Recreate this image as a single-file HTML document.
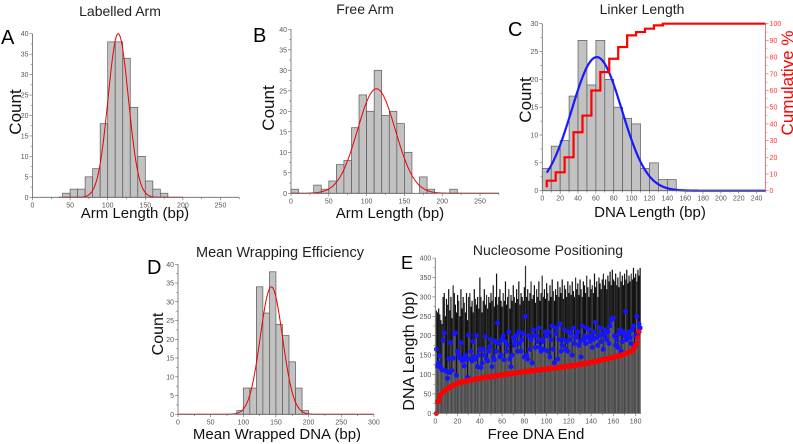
<!DOCTYPE html>
<html><head><meta charset="utf-8"><style>
html,body{margin:0;padding:0;background:#fff;}
svg{display:block;font-family:"Liberation Sans",Arial,sans-serif;}
</style></head><body>
<svg id="fig" width="793" height="444" viewBox="0 0 793 444" xmlns="http://www.w3.org/2000/svg"></svg>
<script>
// Panel A: Labelled Arm
const aBins = [40,50,60,70,80,90,100,110,120,130,140,150,160,170];
const aCounts = [1,2,2,5,7,18,38,38,34,22,10,4,2,1];
const aFit = {mean:114, amp:40, sd:13.5};
// Panel B: Free Arm
const bBins = [0,30,40,50,60,70,80,90,100,110,120,130,140,150,170,180,210];
const bCounts = [1,2,1,3,7,8,16,24,20,30,19,20,17,10,4,1,1];
const bFit = {mean:113, amp:25.5, sd:25};
// Panel C: Linker Length
const cBins = [0,10,20,30,40,50,60,70,80,90,100,110,120,130,140];
const cCounts = [4,8,9,17,27,19,27,20,15,13,12,4,5,2,2];
const cCumul = [6,11,20,35,45,60,71,79,86,93,95,97,99,100,100];
const cFit = {mean:61, amp:24, sd:28};
// Panel D: Mean Wrapping Efficiency
const dBins = [90,100,110,120,130,140,150,160,170,180,190];
const dCounts = [1,7,7,34,27,38,24,21,14,7,1];
const dFit = {mean:143, amp:34, sd:17};
// Panel E: Nucleosome Positioning
const eTotal = [265,260,270,255,240,230,300,310,250,295,280,320,265,300,245,330,310,280,260,305,290,250,320,270,300,285,260,310,240,300,310,275,290,260,320,295,280,300,270,350,300,260,290,320,280,305,270,300,285,310,290,330,275,300,360,280,300,320,290,275,310,290,340,280,300,320,270,305,290,330,300,285,320,295,340,280,310,300,290,325,380,300,320,290,310,340,295,305,330,285,320,300,340,290,310,355,300,320,295,335,310,290,330,300,345,315,290,320,305,340,300,325,310,345,295,330,320,300,340,310,330,305,340,315,300,350,320,335,305,345,320,300,340,330,310,355,325,300,345,320,330,310,360,325,340,300,350,335,320,345,360,330,345,320,355,340,365,330,370,345,340,360,330,350,325,365,340,355,330,360,345,370,335,355,340,360,345,375,350,360,340,370,355,375];
const eBlue = [165,122,130,148,118,112,188,207,110,108,90,140,105,182,110,142,205,207,98,160,150,143,182,135,140,122,150,138,93,202,140,160,135,185,145,140,200,120,150,165,118,130,165,150,198,140,135,160,172,190,120,145,138,185,160,233,180,145,150,190,200,138,185,160,175,210,140,120,150,195,175,185,200,160,210,180,160,190,205,145,250,150,140,200,165,190,130,215,200,170,200,185,220,170,160,190,185,165,210,200,160,210,145,190,225,165,130,205,220,140,190,230,160,175,190,215,165,185,160,210,190,205,150,220,180,195,200,210,175,185,145,225,190,200,180,220,195,215,185,200,170,190,210,235,195,175,200,220,185,205,165,200,215,190,210,180,225,240,245,245,200,175,190,170,205,215,160,185,210,200,262,190,200,210,195,180,215,225,175,200,250,205,230,220];
const eRed = [0,30,31,44,48,52,55,57,59,61,63,65,67,69,70,72,73,75,76,77,78,79,80,81,81,82,83,84,84,85,86,86,87,87,88,88,89,89,90,90,91,91,92,92,93,93,93,94,94,95,95,96,96,96,97,97,98,98,99,99,99,100,100,101,101,102,102,102,103,103,104,104,104,105,105,106,106,106,107,107,108,108,108,109,109,110,110,110,111,111,111,112,112,112,113,113,113,114,114,114,115,115,115,116,116,116,117,117,117,118,118,118,119,119,120,120,120,121,121,122,122,122,123,123,124,124,125,125,126,126,127,127,128,128,129,129,130,130,131,132,132,133,133,134,135,135,136,136,137,138,138,139,140,140,141,142,142,143,144,145,145,146,147,148,148,149,150,151,152,153,154,155,156,157,158,160,162,166,170,176,180,195,210];

const NS = "http://www.w3.org/2000/svg";
const fig = document.getElementById("fig");
function el(tag, attrs, parent, text){
  const e = document.createElementNS(NS, tag);
  for (const k in attrs) e.setAttribute(k, attrs[k]);
  if (text !== undefined) e.textContent = text;
  (parent || fig).appendChild(e);
  return e;
}
function gauss(f, x){ return f.amp*Math.exp(-((x-f.mean)*(x-f.mean))/(2*f.sd*f.sd)); }

function makePanel(name, o){
  const g = el("g", {}, fig);
  
  
  const X = v => o.x0 + v*o.sx;
  const Y = v => o.y0 - v*o.sy;
  o.X = X; o.Y = Y; o.g = g;
  return o;
}
function drawAxes(p, xmax, xstep, xlabStep, ymax, ystep){
  const g = p.g;
  const ax = el("g", {}, g);
  
  
  el("line", {x1:p.X(0), y1:p.y0, x2:p.X(xmax), y2:p.y0, stroke:"#666", "stroke-width":0.8}, ax);
  for (let v=0; v<=xmax+0.001; v+=xstep){
    const major = Math.abs(v/xlabStep - Math.round(v/xlabStep))<1e-6;
    el("line", {x1:p.X(v), y1:p.y0, x2:p.X(v), y2:p.y0+(major?3:1.8), stroke:"#666", "stroke-width":0.6}, ax);
    if (major){
      const t = el("text", {x:p.X(v), y:p.y0+10, "font-size":7, fill:"#555", "text-anchor":"middle"}, ax, String(v));
      
      
    }
  }
  const ay = el("g", {}, g);
  
  
  el("line", {x1:p.x0, y1:p.y0, x2:p.x0, y2:p.Y(ymax), stroke:"#666", "stroke-width":0.8}, ay);
  for (let v=0; v<=ymax+0.001; v+=ystep/2){
    const major = Math.abs(v/ystep - Math.round(v/ystep))<1e-6;
    el("line", {x1:p.x0-(major?3:1.8), y1:p.Y(v), x2:p.x0, y2:p.Y(v), stroke:"#666", "stroke-width":0.6}, ay);
    if (major){
      const t = el("text", {x:p.x0-4, y:p.Y(v)+2.5, "font-size":7, fill:"#555", "text-anchor":"end"}, ay, String(v));
      
      
    }
  }
}
function drawHist(p, bins, counts, w){
  const hg = el("g", {}, p.g);
  
  
  bins.forEach((b,i)=>{
    const r = el("rect", {x:p.X(b), y:p.Y(counts[i]), width:w*p.sx, height:counts[i]*p.sy, fill:"#c2c2c2", stroke:"#5a5a5a", "stroke-width":0.7}, hg);
    
    
  });
}
function drawFit(p, f, from, to, color, width, name){
  let d = "";
  for (let x=from; x<=to; x+=1){ d += (d?"L":"M") + p.X(x).toFixed(2) + "," + p.Y(gauss(f,x)).toFixed(2); }
  const path = el("path", {d:d, fill:"none", stroke:color, "stroke-width":width}, p.g);
  
  
}
function label(txt, attrs, name){
  const t = el("text", attrs, fig, txt);
  
  
  return t;
}

// ---- Panel A
const pA = makePanel('panel-a-labelled-arm', {x0:32.5, sx:0.752, y0:197.3, sy:4.09});
drawHist(pA, aBins, aCounts, 10);
drawFit(pA, aFit, 35, 200, "#e00", 1, 'gaussian-fit');
drawAxes(pA, 275, 25, 50, 40, 5);
// ---- Panel B
const pB = makePanel('panel-b-free-arm', {x0:291, sx:0.756, y0:193.3, sy:4.1});
drawHist(pB, bBins, bCounts, 10);
drawFit(pB, bFit, 0, 275, "#e00", 1, 'gaussian-fit');
drawAxes(pB, 275, 25, 50, 40, 5);
// ---- Panel C
const pC = makePanel('panel-c-linker-length', {x0:542.3, sx:0.893, y0:190.7, sy:5.567});
drawHist(pC, cBins, cCounts, 10);
drawFit(pC, cFit, 5, 250, "#1a1aff", 2.2, 'gaussian-fit');
drawAxes(pC, 250, 10, 20, 30, 5);
{
  const sy2 = (190.7-23.7)/100;
  const Y2 = v => 190.7 - v*sy2;
  let d = "M"+pC.X(5)+","+Y2(2);
  cBins.forEach((b,i)=>{
    d += "L"+pC.X(b+5)+","+Y2(cCumul[i])+"L"+pC.X(b+15)+","+Y2(cCumul[i]);
  });
  d += "L"+pC.X(250)+","+Y2(100);
  const cp = el("path", {d:d, fill:"none", stroke:"#f00", "stroke-width":2.2}, pC.g);
  
  
  const ra = el("g", {}, pC.g);
  
  
  el("line", {x1:pC.X(250), y1:Y2(0), x2:pC.X(250), y2:Y2(100), stroke:"#f55", "stroke-width":0.8}, ra);
  for (let v=0; v<=100; v+=5){
    const major = v%10===0;
    el("line", {x1:pC.X(250), y1:Y2(v), x2:pC.X(250)+(major?3:1.8), y2:Y2(v), stroke:"#f55", "stroke-width":0.6}, ra);
    if (major){
      const t = el("text", {x:pC.X(250)+4, y:Y2(v)+2.5, "font-size":7, fill:"#f33"}, ra, String(v));
      
      
    }
  }
}
// ---- Panel D
const pD = makePanel('panel-d-wrapping-efficiency', {x0:178, sx:0.653, y0:414.3, sy:3.75});
drawHist(pD, dBins, dCounts, 10);
drawFit(pD, dFit, 0, 300, "#e00", 1, 'gaussian-fit');
drawAxes(pD, 300, 25, 50, 40, 5);
// ---- Panel E
const pE = makePanel('panel-e-nucleosome-positioning', {x0:435.3, sx:1.113, y0:413.3, sy:0.388});
{
  const bg = el("g", {}, pE.g);
  
  
  eTotal.forEach((t,i)=>{
    const x = pE.X(i+0.5);
    el("rect", {x:x, y:pE.Y(eBlue[i]), width:pE.sx+0.1, height:eBlue[i]*pE.sy, fill:i%3===0?"#5e5e5e":"#4a4a4a"}, bg);
    el("rect", {x:x, y:pE.Y(t), width:pE.sx+0.1, height:(t-eBlue[i])*pE.sy, fill:i%5===0?"#333":"#121212"}, bg);
  });
  const blg = el("g", {}, pE.g);
  
  
  eBlue.forEach((v,i)=>{ el("circle", {cx:pE.X(i+1), cy:pE.Y(v), r:2.5, fill:"#1515ff"}, blg); });
  const rg = el("g", {}, pE.g);
  
  
  eRed.forEach((v,i)=>{ el("circle", {cx:pE.X(i+1), cy:pE.Y(v), r:2.6, fill:"#f00"}, rg); });
}
drawAxes(pE, 185, 10, 20, 400, 50);

// ---- Text labels
label("Labelled Arm", {x:120, y:16, "font-size":14, "text-anchor":"middle", fill:"#222"}, 'panel-a-title');
label("Free Arm", {x:365, y:14, "font-size":14, "text-anchor":"middle", fill:"#222"}, 'panel-b-title');
label("Linker Length", {x:642, y:14, "font-size":14, "text-anchor":"middle", fill:"#222"}, 'panel-c-title');
label("Mean Wrapping Efficiency", {x:280, y:257, "font-size":14.5, "text-anchor":"middle", fill:"#222"}, 'panel-d-title');
label("Nucleosome Positioning", {x:548, y:255, "font-size":14, "text-anchor":"middle", fill:"#222"}, 'panel-e-title');
label("A", {x:1, y:44, "font-size":20, fill:"#000"}, 'panel-letter-a');
label("B", {x:253, y:42, "font-size":20, fill:"#000"}, 'panel-letter-b');
label("C", {x:508, y:36, "font-size":20, fill:"#000"}, 'panel-letter-c');
label("D", {x:147, y:274, "font-size":20, fill:"#000"}, 'panel-letter-d');
label("E", {x:401, y:269, "font-size":18, fill:"#000"}, 'panel-letter-e');
label("Count", {x:0, y:0, "font-size":17, "text-anchor":"middle", transform:"translate(21,112) rotate(-90)", fill:"#111"}, 'panel-a-y-title');
label("Count", {x:0, y:0, "font-size":17, "text-anchor":"middle", transform:"translate(274,108) rotate(-90)", fill:"#111"}, 'panel-b-y-title');
label("Count", {x:0, y:0, "font-size":17, "text-anchor":"middle", transform:"translate(531,100) rotate(-90)", fill:"#111"}, 'panel-c-y-title');
label("Cumulative %", {x:0, y:0, "font-size":17, "text-anchor":"middle", transform:"translate(793,83) rotate(-90)", fill:"#f00"}, 'panel-c-right-y-title');
label("Count", {x:0, y:0, "font-size":16, "text-anchor":"middle", transform:"translate(163,334) rotate(-90)", fill:"#111"}, 'panel-d-y-title');
label("DNA Length (bp)", {x:0, y:0, "font-size":16, "text-anchor":"middle", transform:"translate(414,351) rotate(-90)", fill:"#111"}, 'panel-e-y-title');
label("Arm Length (bp)", {x:135, y:218, "font-size":15, "text-anchor":"middle", fill:"#111"}, 'panel-a-x-title');
label("Arm Length (bp)", {x:390, y:218, "font-size":15, "text-anchor":"middle", fill:"#111"}, 'panel-b-x-title');
label("DNA Length (bp)", {x:650, y:217, "font-size":15, "text-anchor":"middle", fill:"#111"}, 'panel-c-x-title');
label("Mean Wrapped DNA (bp)", {x:277, y:439, "font-size":15, "text-anchor":"middle", fill:"#111"}, 'panel-d-x-title');
label("Free DNA End", {x:536, y:439, "font-size":15, "text-anchor":"middle", fill:"#111"}, 'panel-e-x-title');
</script>
</body></html>
